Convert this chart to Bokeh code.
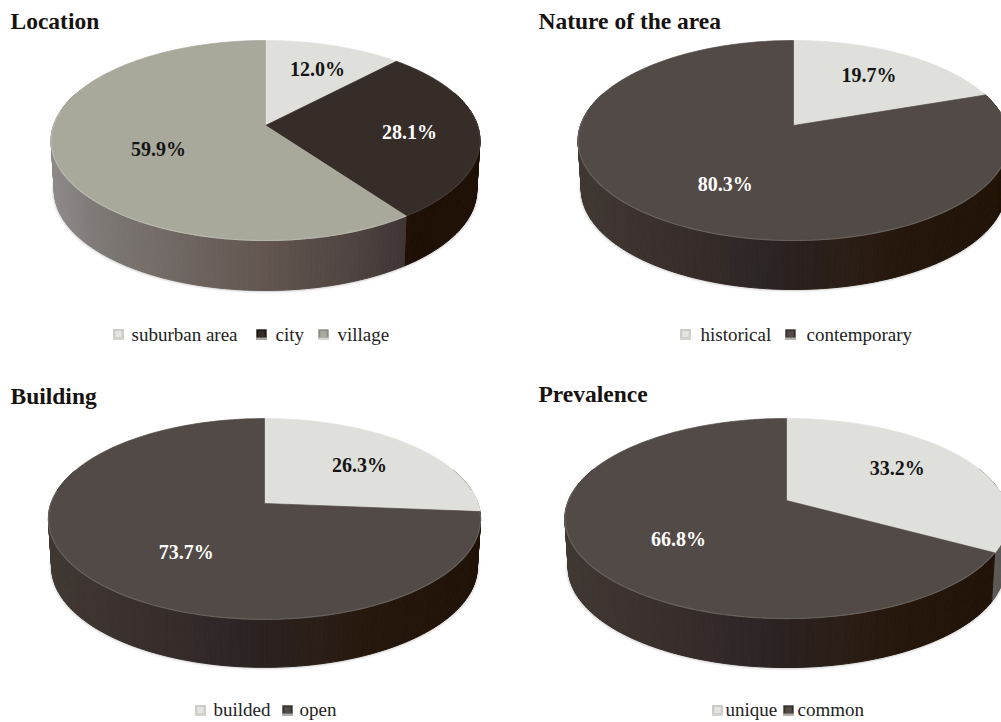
import numpy as np
from bokeh.core.properties import value
from bokeh.embed import file_html
from bokeh.models import ColumnDataSource, Range1d
from bokeh.plotting import figure
from bokeh.resources import INLINE

# ---- data ----
location_names = ["suburban area", "city", "village"]
location_values = [12.0, 28.1, 59.9]
nature_names = ["historical", "contemporary"]
nature_values = [19.7, 80.3]
building_names = ["builded", "open"]
building_values = [26.3, 73.7]
prevalence_names = ["unique", "common"]
prevalence_values = [33.2, 66.8]

# ---- styles ----
FONT = value("Liberation Serif")
LIGHT = dict(top="#dfe0db", side=[(0, "#5c5855"), (1, "#5c5855")], rim="#f0f0ec",
             text="#151515", key=["#c9c9c5", "#e4e5e0", "#c4c4c0"])
VILLAGE = dict(top="#a8a89b",
               side=[(0, "#8f8a8a"), (.1, "#7e7a77"), (.3, "#6f6762"), (.5, "#62564f"),
                     (.7, "#4f4441"), (.85, "#3b3333"), (1, "#3b3333")],
               rim="#c9c9c0", text="#151515", key=["#8b8b85", "#a8a89b", "#c4c4c0"])
CITY = dict(top="#362c28", side=[(0, "#221208"), (1, "#1f1006")], rim="#4f4844",
            text="#ffffff", key=["#1c1512", "#362c28", "#8a8682"])
DARK = dict(top="#524a46",
            side=[(0, "#403833"), (.15, "#3b312e"), (.3, "#352b29"), (.42, "#2d2627"),
                  (.52, "#2a201d"), (.62, "#2b1e16"), (.75, "#26170c"), (1, "#201206")],
            rim="#79746f", text="#ffffff", key=["#35302d", "#524a46", "#9a9692"])

# geometry: apex, projective pie params, wall depth, label placement
PANELS = [
    dict(title="Location", title_xy=(10, 20.5), names=location_names, vals=location_values,
         styles=[LIGHT, CITY, VILLAGE], cx=265, cy=125, a=212, b=97.75, k=.15, depth=50,
         lab_r=[.693, .676, .541], lab_d=[1.2, 1.4, -8],
         key_x=[118, 261, 323], txt_x=[131, 275, 337], key_y=334, txt_y=333.5),
    dict(title="Nature of the area", title_xy=(538, 20.5), names=nature_names, vals=nature_values,
         styles=[LIGHT, DARK], cx=793, cy=125, a=213, b=97.75, k=.15, depth=49,
         lab_r=[.675, .626], lab_d=[-.8, -7.5],
         key_x=[685, 790], txt_x=[700, 806], key_y=334, txt_y=333.5),
    dict(title="Building", title_xy=(10, 395.5), names=building_names, vals=building_values,
         styles=[LIGHT, DARK], cx=264, cy=503, a=213.5, b=98, k=.154, depth=48,
         lab_r=[.636, .575], lab_d=[.9, -11],
         key_x=[200, 287], txt_x=[213, 299], key_y=710, txt_y=709),
    dict(title="Prevalence", title_xy=(538, 393.5), names=prevalence_names, vals=prevalence_values,
         styles=[LIGHT, DARK], cx=786, cy=500, a=218, b=96.8, k=.18, depth=49,
         lab_r=[.645, .595], lab_d=[-2.8, -8.9],
         key_x=[717, 788], txt_x=[725, 797], key_y=710, txt_y=709),
]


def project(pan, phi, r=1.0):
    """Perspective view of a point on the pie disc; phi clockwise from 12 o'clock."""
    u, v = r * np.sin(phi), r * np.cos(phi)
    d = 1 + pan["k"] * v
    return pan["cx"] + pan["a"] * u / d, pan["cy"] - pan["b"] * v / d


def ramp(stops, t):
    xs = [s[0] for s in stops]
    rgb = np.array([[int(s[1][i:i + 2], 16) for i in (1, 3, 5)] for s in stops], float)
    c = [np.interp(t, xs, rgb[:, j]) for j in range(3)]
    return "#%02x%02x%02x" % tuple(int(round(x)) for x in c)


p = figure(width=1001, height=722, output_backend="svg", toolbar_location=None,
           x_range=Range1d(0, 1001), y_range=Range1d(722, 0),
           x_axis_location=None, y_axis_location=None, min_border=0,
           outline_line_color=None, background_fill_color="white", border_fill_color="white")
p.grid.visible = False

for pan in PANELS:
    total = sum(pan["vals"])
    edges = 2 * np.pi * np.cumsum([0] + pan["vals"]) / total
    w = pan["a"] / np.sqrt(1 - pan["k"] ** 2)
    lower = .985

    # soft shadow round the lower silhouette
    ph = np.linspace(np.pi * .42, np.pi * 1.58, 160)
    sx, sy = project(pan, ph)
    sx = pan["cx"] + (sx - pan["cx"]) * lower
    sy = sy + pan["depth"]
    for lw, al in ((6, .05), (4, .08), (2, .14)):
        p.line(sx, sy, line_color="#555049", line_width=lw, line_alpha=al)

    # side wall strips
    xs, ys, cols = [], [], []
    for i, st in enumerate(pan["styles"]):
        n = max(2, int((edges[i + 1] - edges[i]) / np.radians(1.2)))
        ang = np.linspace(edges[i], edges[i + 1], n + 1)
        for a0, a1 in zip(ang[:-1], ang[1:]):
            if np.cos((a0 + a1) / 2) > .35:
                continue
            x0, y0 = project(pan, a0)
            x1, y1 = project(pan, a1)
            lx0 = pan["cx"] + (x0 - pan["cx"]) * lower
            lx1 = pan["cx"] + (x1 - pan["cx"]) * lower
            xs.append([x0, x1, lx1, lx0])
            ys.append([y0, y1, y1 + pan["depth"], y0 + pan["depth"]])
            t = ((x0 + x1) / 2 - (pan["cx"] - w)) / (2 * w)
            cols.append(ramp(st["side"], t))
    p.patches("xs", "ys", fill_color="cols", line_color="cols", line_width=1.0,
              source=ColumnDataSource(dict(xs=xs, ys=ys, cols=cols)))

    # top face
    for i, st in enumerate(pan["styles"]):
        ang = np.linspace(edges[i], edges[i + 1], 160)
        x, y = project(pan, ang)
        p.patch([pan["cx"], *x], [pan["cy"], *y], fill_color=st["top"], line_color=st["top"],
                line_width=.7)
        m = np.cos(ang) < .15
        if m.any():
            p.line(x[m], y[m], line_color=st["rim"], line_width=1.2, line_alpha=.6)

    # data labels
    for i, st in enumerate(pan["styles"]):
        mid = (edges[i] + edges[i + 1]) / 2 + np.radians(pan["lab_d"][i])
        lx, ly = project(pan, mid, pan["lab_r"][i])
        p.text([lx], [ly], text=[f'{pan["vals"][i]:.1f}%'], text_font=FONT, text_font_size="20px",
               text_font_style="bold", text_color=st["text"], text_align="center",
               text_baseline="middle")

    # title
    p.text([pan["title_xy"][0]], [pan["title_xy"][1]], text=[pan["title"]], text_font=FONT,
           text_font_size="23.5px", text_font_style="bold", text_color="#161210",
           text_align="left", text_baseline="middle")

    # legend
    for i, st in enumerate(pan["styles"]):
        kx, ky = pan["key_x"][i], pan["key_y"]
        top_c, mid_c, bot_c = st["key"]
        p.rect([kx], [ky], width=11, height=11, fill_color=bot_c, line_color=None, fill_alpha=.75)
        p.rect([kx], [ky - 1], width=10, height=8, fill_color=top_c, line_color=None)
        p.rect([kx], [ky - .5], width=6.5, height=6, fill_color=mid_c, line_color=None)
        p.text([pan["txt_x"][i]], [pan["txt_y"]], text=[pan["names"][i]], text_font=FONT,
               text_font_size="19px", text_color="#222222", text_align="left",
               text_baseline="middle")

open("out.html", "w").write(file_html(p, INLINE))
